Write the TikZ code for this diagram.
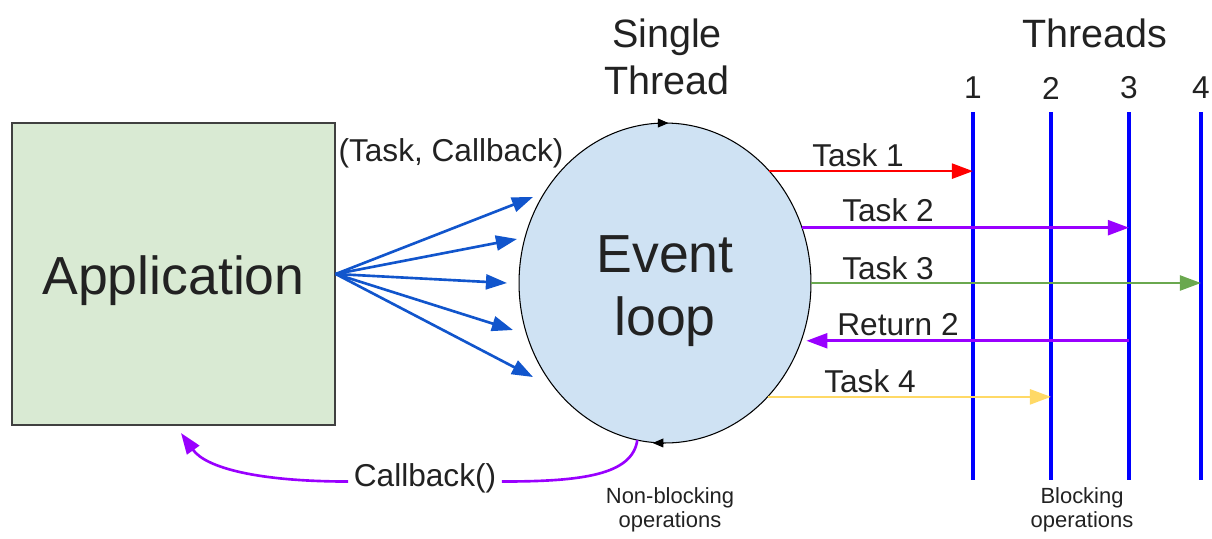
\documentclass[tikz,border=0pt]{standalone}
\usepackage{fontspec}
\setmainfont{Liberation Sans}
\usetikzlibrary{arrows.meta,shapes.geometric}

\definecolor{appgreen}{HTML}{D9EAD3}
\definecolor{loopblue}{HTML}{CFE2F3}
\definecolor{fanblue}{HTML}{1155CC}
\definecolor{taskpurple}{HTML}{9900FF}
\definecolor{taskgreen}{HTML}{6AA84F}
\definecolor{taskyellow}{HTML}{FFD966}
\definecolor{textgray}{HTML}{222222}

\tikzset{
  task/.style={-{Triangle[length=12pt,width=8.5pt]},line width=1.5pt},
  thread/.style={line width=1.8pt,blue},
  lbl/.style={text=textgray,font=\fontsize{18}{21}\selectfont,inner sep=1pt},
  big/.style={text=textgray,font=\fontsize{30.5}{35.7}\selectfont},
  head/.style={text=textgray,font=\fontsize{22.5}{26.6}\selectfont,align=center},
  small/.style={text=textgray,font=\fontsize{12.5}{13.6}\selectfont,align=center},
  dirmark/.style={-{Triangle[length=6pt,width=5pt]},line width=0.5pt},
}

\begin{document}
\begin{tikzpicture}[x=0.02cm,y=-0.02cm]
    \useasboundingbox (0,0) rectangle (1212,538);
    % application and event loop
    \node[big,draw=black!75,fill=appgreen,line width=0.8pt,minimum width=6.46cm,minimum height=6.04cm,text height=30pt,text depth=6.4pt] (app) at (173.5,274) {Application};
    \node[big,ellipse,draw,fill=loopblue,line width=0.6pt,outer sep=0pt,minimum width=5.84cm,minimum height=6.4cm,align=center] (loop) at (665,283) {\rule{0pt}{1em}Event\\loop};
    \draw[dirmark] ([xshift=-4pt]loop.north) -- ([xshift=2pt]loop.north);
    \draw[dirmark] ([xshift=-1pt]loop.south) -- ([xshift=-7pt]loop.south);
    \node[head] (single) at (667,57) {Single\\Thread};
    % threads
    \coordinate (th1top) at (973,112);
    \coordinate (th1bot) at (973,480);
    \coordinate (th2top) at (1051,112);
    \coordinate (th2bot) at (1051,480);
    \coordinate (th3top) at (1129,112);
    \coordinate (th3bot) at (1129,480);
    \coordinate (th4top) at (1201,112);
    \coordinate (th4bot) at (1201,480);
    \node[head] (threads) at (1095,33) {Threads};
    \node[lbl] (n1) at (973,88) {1};
    \node[lbl] (n2) at (1051,88) {2};
    \node[lbl] (n3) at (1129,88) {3};
    \node[lbl] (n4) at (1201,88) {4};
    \draw[thread] (th1top) -- (th1bot);
    \draw[thread] (th2top) -- (th2bot);
    \draw[thread] (th3top) -- (th3bot);
    \draw[thread] (th4top) -- (th4bot);
    % tasks
    \draw[task,red] (loop.47) -- (loop.47 -| th1top);
    \draw[task,taskpurple] (loop.22) -- (loop.22 -| th3top);
    \draw[task,taskgreen] (loop.0) -- (loop.0 -| th4top);
    \draw[task,taskpurple,shorten >=3pt] (loop.-23 -| th3top) -- (loop.-23);
    \draw[task,taskyellow] (loop.-48) -- (loop.-48 -| th2top);
    \node[lbl] (lt1) at (858,155) {Task 1};
    \node[lbl] (lt2) at (888,210) {Task 2};
    \node[lbl] (lt3) at (888,268) {Task 3};
    \node[lbl] (lr2) at (898,325) {Return 2};
    \node[lbl] (lt4) at (870,381) {Task 4};
    % (task, callback) pairs
    \coordinate (f1) at (533,197);
    \coordinate (f2) at (517,239);
    \coordinate (f3) at (507,283);
    \coordinate (f4) at (513,330);
    \coordinate (f5) at (533,377);
    \node[lbl] (pair) at (451,153) {(Task, Callback)};
    \draw[task,fanblue] (app.east) -- (f1);
    \draw[task,fanblue] (app.east) -- (f2);
    \draw[task,fanblue] (app.east) -- (f3);
    \draw[task,fanblue] (app.east) -- (f4);
    \draw[task,fanblue] (app.east) -- (f5);
    % callback
    \node[lbl,fill=white,inner sep=3pt] (cb) at (425,478) {Callback()};
    \coordinate (cbtip) at (181,433);
    \draw[line width=1.5pt,taskpurple] (loop.-100) .. controls +(-5,35) and +(80,0) .. ([yshift=-2pt]cb.east);
    \draw[task,taskpurple] ([yshift=-2pt]cb.west) .. controls +(-90,0) and +(25,35) .. (cbtip);
    \node[small] (nonblock) at (670,510) {Non-blocking\\operations};
    \node[small] (block) at (1082,510) {Blocking\\operations};
\end{tikzpicture}
\end{document}
